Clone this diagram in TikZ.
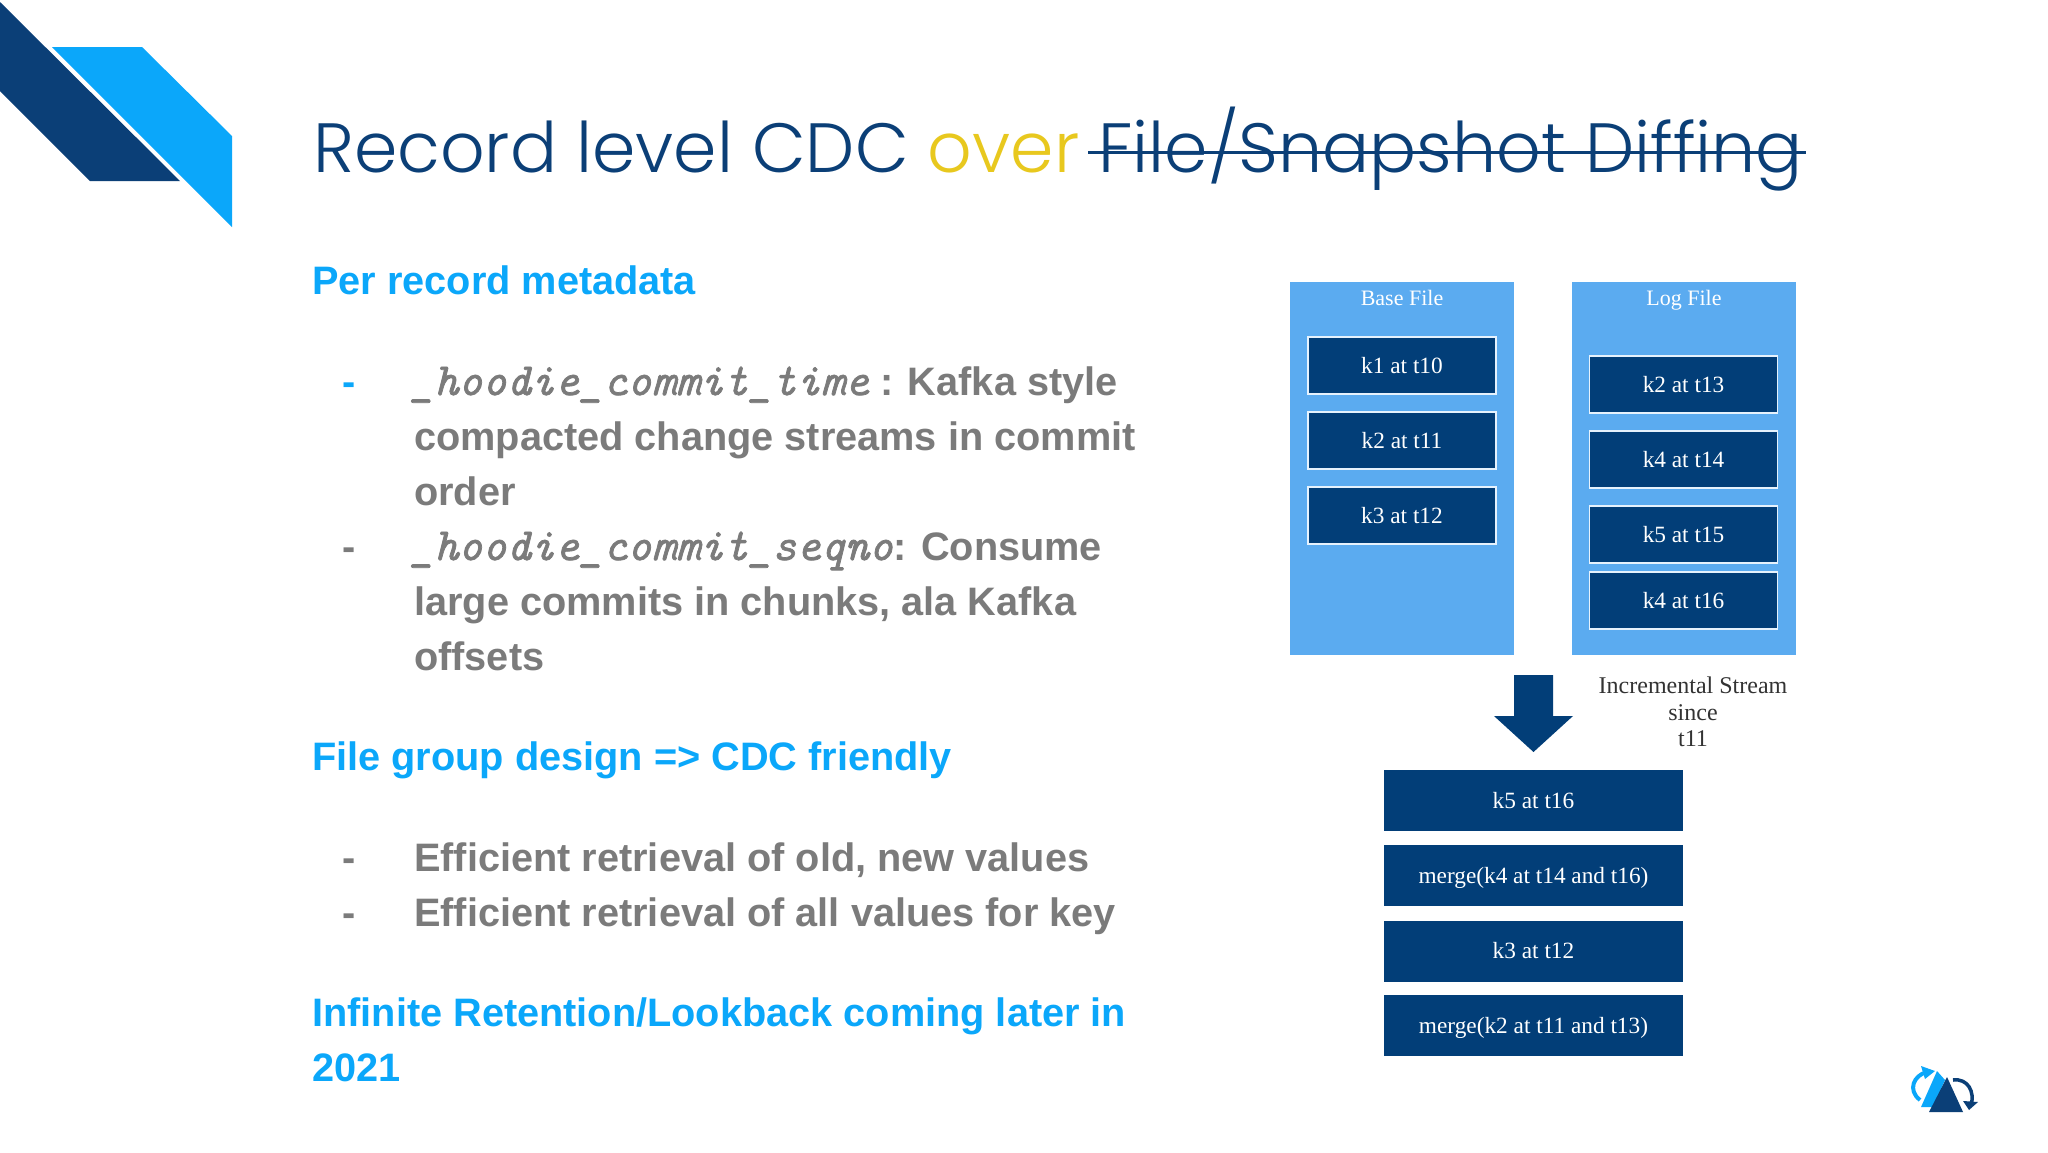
\documentclass[tikz,border=0pt]{standalone}
\usepackage{fontspec}
\setmainfont{Liberation Sans}
\newfontfamily\titlefont{Poppins Light}
\newfontfamily\imgfont{Liberation Serif}
\newfontfamily\codefam{Latin Modern Mono}[ItalicFeatures={FakeBold=1.6}]
\newcommand\codefont{\fontsize{46}{55}\selectfont\codefam\mdseries\itshape}
\usetikzlibrary{positioning,arrows.meta,calc}
\definecolor{navy}{HTML}{0B3F77}
\definecolor{boxnavy}{HTML}{023E78}
\definecolor{skyblue}{HTML}{0BA7FA}
\definecolor{panelblue}{HTML}{5BABF0}
\definecolor{bodygray}{HTML}{7B7B7B}
\definecolor{overyellow}{HTML}{E8C81E}

\begin{document}
\begin{tikzpicture}[x=1pt,y=-1pt,
  heading/.style = {
    anchor=base west, inner sep=0pt, text=skyblue,
    font=\fontsize{39.7}{55}\selectfont\bfseries,
  },
  bodytext/.style = {
    anchor=base west, inner sep=0pt, text=bodygray,
    font=\fontsize{39.7}{55}\selectfont\bfseries,
  },
  panel/.style = {
    draw=none, fill=panelblue, minimum width=224pt, minimum height=373pt,
    inner sep=0pt,
  },
  keybox/.style = {
    draw=white!85!panelblue, line width=1.5pt, fill=boxnavy, text=white,
    minimum width=188pt, minimum height=57pt, inner sep=0pt,
    text height=20pt, text depth=5pt,
    font=\fontsize{23.3}{26}\imgfont,
  },
  streambox/.style = {
    fill=boxnavy, text=white, minimum width=299pt, minimum height=61pt,
    inner sep=0pt, text height=20pt, text depth=5pt,
    font=\fontsize{23.3}{26}\imgfont,
  },
  paneltitle/.style = {
    text=white, text height=15pt, text depth=5pt,
    font=\fontsize{22}{26}\imgfont,
  },
]
  \useasboundingbox (0,0) rectangle (2048,1152);
  \fill[white] (0,0) rectangle (2048,1152);

  % corner
  \fill[navy] (0,2) -- (180,181) -- (90,181) -- (0,91) -- cycle;
  \fill[skyblue] (52,47) -- (142,47) -- (232,136) -- (232,227) -- cycle;

  % title
  \node[anchor=base west,inner sep=0pt,text=navy,font=\fontsize{69.7}{76}\titlefont] (title) at (313,172)
    {Record level CDC \textcolor{overyellow}{over} File/Snapshot Diffing};
  \coordinate (strikel) at (1088,152);
  \coordinate (striker) at (1806,152);
  \draw[navy,line width=3pt] (strikel) -- (striker);

  % left column
  \node[heading] (perrecord) at (312,294) {Per record metadata};
  \node[bodytext,text=skyblue] (dasha) at (342,395) {-};
  \node[bodytext] (linea) at (410,395) {{\codefont\_hoodie\_commit\_time} : Kafka style};
  \node[bodytext] (lineb) at (414,450) {compacted change streams in commit};
  \node[bodytext] (linec) at (414,505) {order};
  \node[bodytext] (dashb) at (342,560) {-};
  \node[bodytext] (lined) at (410,560) {{\codefont\_hoodie\_commit\_seqno}: Consume};
  \node[bodytext] (linee) at (414,615) {large commits in chunks, ala Kafka};
  \node[bodytext] (linef) at (414,670) {offsets};
  \node[heading] (filegroup) at (312,770) {File group design => CDC friendly};
  \node[bodytext] (dashc) at (342,871) {-};
  \node[bodytext] (lineg) at (414,871) {Efficient retrieval of old, new values};
  \node[bodytext] (dashd) at (342,926) {-};
  \node[bodytext] (lineh) at (414,926) {Efficient retrieval of all values for key};
  \node[heading] (infinite) at (312,1026) {Infinite Retention/Lookback coming later in};
  \node[heading] (year) at (312,1081) {2021};

  % right column
  \node[panel] (basefile) at (1402,468.5) {};
  \node[panel] (logfile) at (1684,468.5) {};
  \node[paneltitle] (basetitle) at (1402,300.5) {Base File};
  \node[paneltitle] (logtitle) at (1684,300.5) {Log File};
  \foreach \name/\ypos/\txt in {ka/365.5/k1 at t10, kb/440.5/k2 at t11, kc/515.5/k3 at t12}
    \node[keybox] (\name) at (1402,\ypos) {\txt};
  \foreach \name/\ypos/\txt in {kd/384.5/k2 at t13, ke/459.5/k4 at t14, kf/534.5/k5 at t15, kg/600.5/k4 at t16}
    \node[keybox] (\name) at (1683.5,\ypos) {\txt};

  \fill[boxnavy] (1514,675) -- (1553,675) -- (1553,716) -- (1573,716) -- (1533.5,752)
    -- (1494,716) -- (1514,716) -- cycle;
  \node[align=center,text=black!80,font=\fontsize{24}{26.5}\imgfont] (since) at (1693,712)
    {Incremental Stream\\since\\t11};

  \node[streambox] (sa) at (1533.5,800.5) {k5 at t16};
  \node[streambox] (sb) at (1533.5,875.5) {merge(k4 at t14 and t16)};
  \node[streambox] (sc) at (1533.5,951) {k3 at t12};
  \node[streambox] (sd) at (1533.5,1025.5) {merge(k2 at t11 and t13)};

  % logo
  \fill[skyblue] (1921,1107) -- (1933,1107) -- (1945,1080) -- (1937,1071) -- cycle;
  \draw[skyblue,line width=4pt] (1920,1100) .. controls (1907,1090) and (1914,1075) .. (1927,1072);
  \fill[skyblue] (1921,1066) -- (1935,1071) -- (1925,1079) -- cycle;
  \fill[navy] (1929,1112) -- (1963,1112) -- (1947,1077) -- cycle;
  \draw[navy,line width=3.5pt] (1953,1080) .. controls (1968,1078) and (1975,1092) .. (1971,1105);
  \fill[navy] (1963,1101) -- (1978,1102) -- (1969,1110) -- cycle;
\end{tikzpicture}
\end{document}
